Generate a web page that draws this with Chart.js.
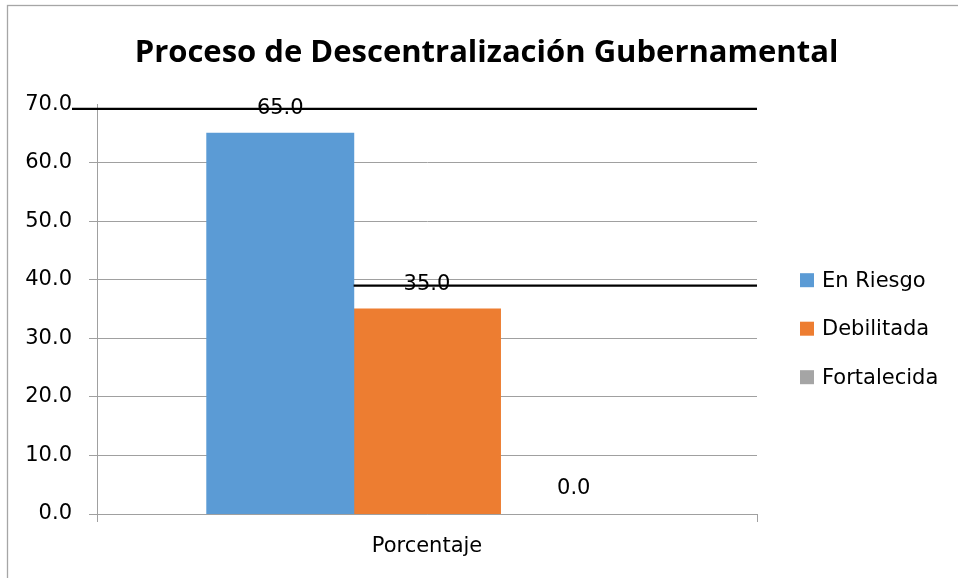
<!DOCTYPE html>
<html>
<head>
<meta charset="utf-8">
<script src="https://cdn.jsdelivr.net/npm/chart.js@4/dist/chart.umd.min.js"></script>
<style>
  html, body { margin: 0; padding: 0; background: #ffffff; }
  #wrap { position: relative; width: 958px; height: 578px; }
</style>
</head>
<body>
<div id="wrap"><canvas id="c" width="958" height="578"></canvas></div>
<script>
// ---- data ----
const categories = ['Porcentaje'];
const seriesNames = ['En Riesgo', 'Debilitada', 'Fortalecida'];
const enRiesgo = [65.0];
const debilitada = [35.0];
const fortalecida = [0.0];
const seriesColors = ['#5B9BD5', '#ED7D31', '#A5A5A5'];
const yMin = 0, yMax = 70, yStep = 10;
const titleText = 'Proceso de Descentralización Gubernamental';
// horizontal black rules seen in the reference (value on the y scale)
const ruleValues = [69.2, 39.0];
// where each rule starts: 'axis' = at the y tick labels, otherwise dataset index whose bar left edge starts it
const ruleStarts = ['axis', 1];

const GRID = '#a0a0a0';
const FONT = 'DejaVu Sans';
const FS = 21;

Chart.defaults.font.family = FONT;
Chart.defaults.font.size = FS;
Chart.defaults.color = '#000000';

const frame = {
  id: 'frame',
  beforeDraw(chart) {
    const ctx = chart.ctx;
    ctx.save();
    ctx.fillStyle = '#ffffff';
    ctx.fillRect(0, 0, chart.width, chart.height);
    ctx.strokeStyle = '#a6a6a6';
    ctx.lineWidth = 1.3;
    ctx.strokeRect(7.5, 5.5, chart.width + 20, chart.height + 20);
    ctx.restore();
  }
};

const valueLabels = {
  id: 'valueLabels',
  afterDatasetsDraw(chart) {
    const ctx = chart.ctx;
    ctx.save();
    ctx.font = FS + 'px "' + FONT + '"';
    ctx.fillStyle = '#000';
    ctx.textAlign = 'center';
    ctx.textBaseline = 'middle';
    chart.data.datasets.forEach((ds, i) => {
      chart.getDatasetMeta(i).data.forEach((bar, j) => {
        ctx.fillText(Number(ds.data[j]).toFixed(1), bar.x, bar.y - 25);
      });
    });
    // rules
    const ys = chart.scales.y;
    ctx.strokeStyle = '#000';
    ctx.lineWidth = 2.2;
    ruleValues.forEach((v, k) => {
      const y = ys.getPixelForValue(v);
      let x0;
      if (ruleStarts[k] === 'axis') {
        x0 = chart.chartArea.left - 25;
      } else {
        const b = chart.getDatasetMeta(ruleStarts[k]).data[0];
        x0 = b.x - b.width / 2;
      }
      ctx.beginPath();
      ctx.moveTo(x0, y);
      ctx.lineTo(chart.chartArea.right, y);
      ctx.stroke();
    });
    ctx.restore();
  }
};

const sideLegend = {
  id: 'sideLegend',
  afterDraw(chart) {
    const ctx = chart.ctx;
    const a = chart.chartArea;
    ctx.save();
    ctx.font = FS + 'px "' + FONT + '"';
    ctx.textAlign = 'left';
    ctx.textBaseline = 'middle';
    chart.data.datasets.forEach((ds, i) => {
      const cy = a.top + 176 + i * 48.5;
      const x = a.right + 43;
      ctx.fillStyle = ds.backgroundColor;
      ctx.fillRect(x, cy - 7, 14, 14);
      ctx.fillStyle = '#000';
      ctx.fillText(ds.label, x + 22, cy + 1);
    });
    ctx.restore();
  }
};

const seriesData = [enRiesgo, debilitada, fortalecida];

new Chart(document.getElementById('c'), {
  type: 'bar',
  data: {
    labels: categories,
    datasets: seriesNames.map((n, i) => ({
      label: n,
      data: seriesData[i],
      backgroundColor: seriesColors[i],
      borderColor: seriesColors[i],
      borderWidth: 0,
      inflateAmount: (c) => (c.raw === 0 ? 0 : 0.6),
      barPercentage: 1.0,
      categoryPercentage: 0.667
    }))
  },
  options: {
    responsive: false,
    animation: false,
    layout: { padding: { left: 15, right: 0, top: 0, bottom: 0 } },
    plugins: {
      legend: { display: false },
      tooltip: { enabled: false },
      title: {
        display: true,
        text: titleText,
        color: '#000',
        font: { family: 'Open Sans', size: 31, weight: 'bold' },
        padding: { top: 35, bottom: 32 }
      }
    },
    scales: {
      x: {
        type: 'category',
        offset: true,
        grid: { display: true, drawOnChartArea: false, drawTicks: true, tickLength: 8, color: GRID, offset: true },
        border: { display: true, color: GRID },
        ticks: { padding: 12, font: { size: FS }, color: '#000' },
        afterFit(s) { s.height = 64; }
      },
      y: {
        type: 'linear',
        min: yMin, max: yMax,
        grid: {
          color: (c) => (c.tick && c.tick.value === yMax) ? 'rgba(0,0,0,0)' : GRID,
          tickLength: 8
        },
        border: { display: true, color: GRID },
        ticks: {
          stepSize: yStep,
          padding: 17,
          font: { size: FS },
          color: '#000',
          callback: (v) => Number(v).toFixed(1)
        },
        afterFit(s) { s.width = 82; }
      },
      y2: {
        type: 'linear',
        position: 'right',
        display: true,
        grid: { display: false },
        border: { display: false },
        ticks: { display: false },
        afterFit(s) { s.width = 201; }
      }
    }
  },
  plugins: [frame, valueLabels, sideLegend]
});
</script>
</body>
</html>
